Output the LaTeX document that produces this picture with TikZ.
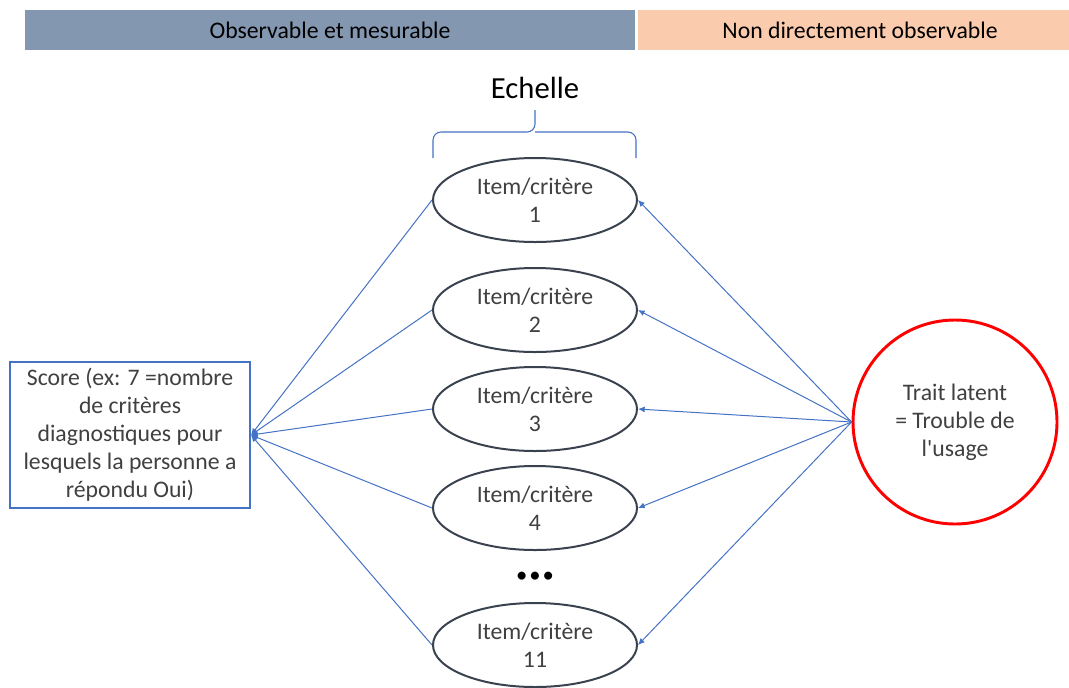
\documentclass[tikz,border=0pt]{standalone}
\usepackage{fontspec}
\setmainfont{Carlito}
\usetikzlibrary{arrows.meta,shapes.geometric}
\definecolor{bandeau}{HTML}{8497B0}
\definecolor{peche}{HTML}{FBCBAE}
\definecolor{lien}{HTML}{4472C4}
\definecolor{texte}{HTML}{404040}
\definecolor{contour}{HTML}{3A4250}
\begin{document}
\begin{tikzpicture}[x=0.75pt,y=-0.75pt,
  txt/.style={font=\fontsize{17.8}{21}\selectfont,text=texte,align=center},
  item/.style={txt,ellipse,draw=contour,line width=1.5pt,minimum width=153pt,minimum height=63pt,inner sep=0pt},
  fleche/.style={lien,line width=0.75pt,-{Latex[length=5pt,width=4.5pt]}}]
\useasboundingbox (0,0) rectangle (1069,687);
\fill[bandeau] (25,10) rectangle (635,50);
\fill[peche] (638,10) rectangle (1069,50);
\node[font=\fontsize{17.8}{20}\selectfont] (obs) at (330,30) {Observable et mesurable};
\node[font=\fontsize{17.8}{20}\selectfont] (nonobs) at (860,30) {Non directement observable};
\node[font=\fontsize{23}{27}\selectfont] (echelle) at (535,88) {Echelle};
\draw[lien,line width=0.8pt,rounded corners=6] (433,158) |- (535,132) -- (535,110);
\draw[lien,line width=0.8pt,rounded corners=6] (636,158) |- (535,132);
\foreach \n/\y in {1/200,2/310,3/409,4/508,11/645}
  \node[item] (it\n) at (535,\y) {Item/critère\\\n};
\node[font=\fontsize{17}{20}\selectfont] (suite) at (535,577) {•\hspace{1.5pt}•\hspace{1.5pt}•};
\node[txt,draw=lien,line width=1.5pt,minimum width=180pt,minimum height=109pt,inner sep=0pt] (score) at (130,435)
  {Score (ex: 7 =nombre\\de critères\\diagnostiques pour\\lesquels la personne a\\répondu Oui)};
\node[txt,circle,draw=red,line width=2.2pt,minimum size=153pt,inner sep=0pt] (trait) at (955,422)
  {Trait latent\\= Trouble de\\l\textquotesingle usage};
\foreach \n in {1,2,3,4,11} {
  \draw[fleche] (trait.west) -- (it\n.east);
  \draw[fleche] (it\n.west) -- (score.east);
}
\end{tikzpicture}
\end{document}
